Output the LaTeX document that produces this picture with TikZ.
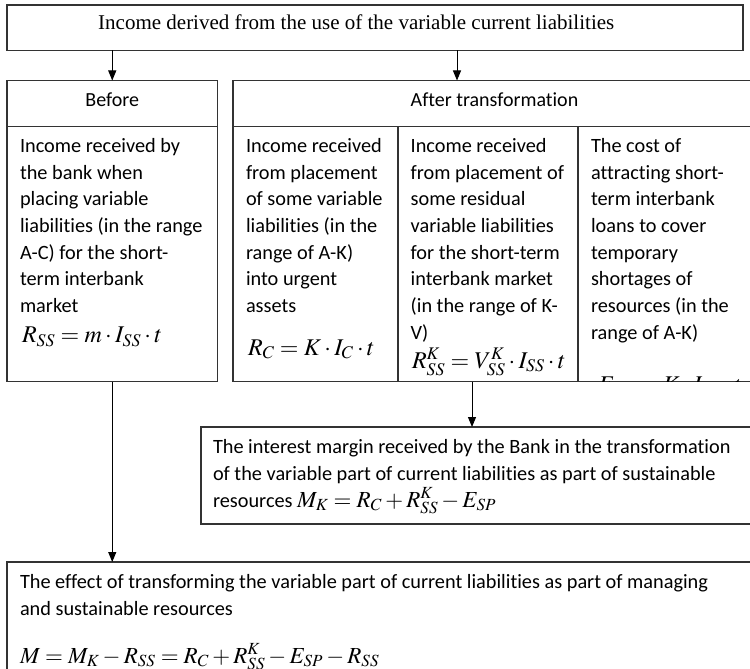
\documentclass[tikz,border=0pt]{standalone}
\usepackage{mathptmx}
\usepackage[no-math]{fontspec}
\setmainfont{Carlito}[Ligatures=CommonOff]
\newfontfamily\tmsfont{Liberation Serif}
\usetikzlibrary{arrows.meta}
\begin{document}
\begin{tikzpicture}[x=1pt,y=-1pt,
  box/.style={draw=black!80, line width=1.1pt, inner sep=0pt, outer sep=0pt, anchor=north west},
  txt/.style={inner sep=0pt, outer sep=0pt, anchor=base west, align=left, font=\fontsize{20.3}{26.7}\selectfont},
  ctr/.style={inner sep=0pt, outer sep=0pt, anchor=base, font=\fontsize{20}{26.7}\selectfont},
  frm/.style={inner sep=0pt, outer sep=0pt, anchor=base west, font=\fontsize{24}{28}\selectfont},
  arr/.style={-{Triangle[length=10pt,width=8pt]}, line width=1pt, draw=black}]
\useasboundingbox (0,0) rectangle (750,669);
\clip (0,0) rectangle (750,669);
\fill[white] (0,0) rectangle (750,669);
% boxes
\node[box, minimum width=736pt, minimum height=45.5pt] (top) at (7,5) {};
\node[box, minimum width=210.5pt, minimum height=46pt] (beforehdr) at (7,80.5) {};
\node[box, minimum width=210.5pt, minimum height=255pt] (beforebody) at (7,126.5) {};
\node[box, minimum width=524pt, minimum height=46pt] (afterhdr) at (233,80.5) {};
\node[box, minimum width=165pt, minimum height=255pt] (c1) at (233,126.5) {};
\node[box, minimum width=180pt, minimum height=255pt] (c2) at (398,126.5) {};
\node[box, minimum width=179pt, minimum height=255pt] (c3) at (578,126.5) {};
\node[box, minimum width=556pt, minimum height=97pt] (interest) at (201,427) {};
\node[box, minimum width=750pt, minimum height=120pt] (effect) at (7,562) {};
% texts (multi-line nodes are anchored at the baseline of their last line)
\node[inner sep=0pt, anchor=base west, font=\tmsfont\fontsize{21}{25}\selectfont] (toptxt) at (98,30) {Income derived from the use of the variable current liabilities};
\node[ctr] (beforetxt) at (112.25,106.7) {Before};
\node[ctr] (aftertxt) at (494.5,106.7) {After transformation};
\node[txt] (b1) at (20,312.5) {Income received by\\the bank when\\placing variable\\liabilities (in the range\\A-C) for the short-\\term interbank\\market};
\node[frm] (bf) at (22,342.7) {$R_{SS}=m\cdot I_{SS}\cdot t$};
\node[txt] (t1) at (246,312.5) {Income received\\from placement\\of some variable\\liabilities (in the\\range of A-K)\\into urgent\\assets};
\node[frm] (f1) at (248,355) {$R_{C}=K\cdot I_{C}\cdot t$};
\node[txt] (t2) at (410.7,339.2) {Income received\\from placement of\\some residual\\variable liabilities\\for the short-term\\interbank market\\(in the range of K-\\V)};
\begin{scope}
\clip (c2.north west) rectangle (c2.south east);
\node[frm] (f2) at (412,368) {$R^{K}_{SS}=V^{K}_{SS}\cdot I_{SS}\cdot t$};
\end{scope}
\node[txt] (t3) at (591,339.2) {The cost of\\attracting short-\\term interbank\\loans to cover\\temporary\\shortages of\\resources (in the\\range of A-K)};
\begin{scope}
\clip (c3.north west) rectangle (c3.south east);
\node[frm] (f3) at (598,392) {$E_{SP}=K\cdot I_{SP}\cdot t$};
\end{scope}
\node[txt] (it) at (213,507) {The interest margin received by the Bank in the transformation\\of the variable part of current liabilities as part of sustainable\\resources {\fontsize{23}{26.7}\selectfont$M_{K}=R_{C}+R^{K}_{SS}-E_{SP}$}};
\node[txt] (et) at (20,615.5) {The effect of transforming the variable part of current liabilities as part of managing\\and sustainable resources};
\node[frm, font=\fontsize{23}{26}\selectfont] (ef) at (20,663) {$M=M_{K}-R_{SS}=R_{C}+R^{K}_{SS}-E_{SP}-R_{SS}$};
% arrows
\coordinate (a2) at (457,80.5);
\coordinate (a3) at (472,381.5);
\draw[arr] (top.south -| beforehdr.north) -- (beforehdr.north);
\draw[arr] (top.south -| a2) -- (a2);
\draw[arr] (a3) -- (a3 |- interest.north);
\draw[arr] (beforebody.south) -- (beforebody.south |- effect.north);
\end{tikzpicture}
\end{document}
